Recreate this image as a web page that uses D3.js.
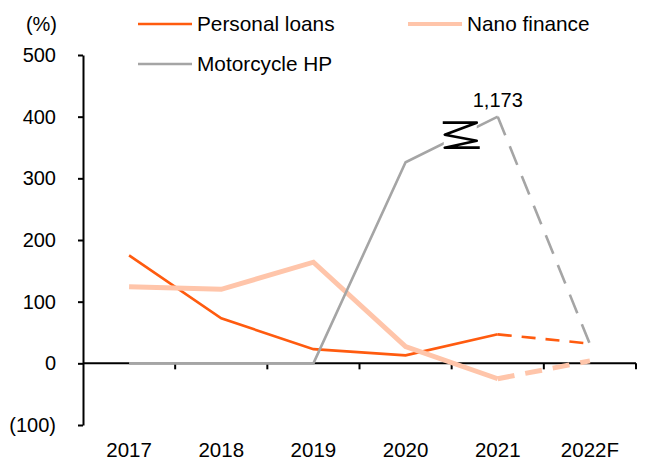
<!DOCTYPE html>
<html>
<head>
<meta charset="utf-8">
<script src="https://cdn.jsdelivr.net/npm/d3@7"></script>
<style>
  body { margin: 0; background: #fff; }
  text { font-family: "Liberation Sans", Arial, sans-serif; fill: #000; }
</style>
</head>
<body>
<div id="chart"></div>
<script>
const years = ["2017", "2018", "2019", "2020", "2021", "2022F"]
const personalLoans = [175, 73, 23, 13, 47, 32]
const nanoFinance = [124, 120, 164, 27, -25, 4]
const motorcycleHP = [0, 0, 0, 326, 1173, 31]
const yTicks = [-100, 0, 100, 200, 300, 400, 500]
const breakCap = 400          // axis is broken above this value
const forecastFrom = 4        // 2021 -> 2022F is dashed

const width = 650, height = 462
const margin = { top: 55, left: 83, bottom: 37, right: 14 }

const svg = d3.select("#chart").append("svg").attr("width", width).attr("height", height)

const x = d3.scaleBand().domain(years).range([margin.left, width - margin.right])
const y = d3.scaleLinear().domain([-100, 500]).range([height - margin.bottom, margin.top])
const cx = d => x(d) + x.bandwidth() / 2

const series = [
  { name: "Personal loans", values: personalLoans, color: "#FF5B0F", width: 2.6, dash: "14,10" },
  { name: "Nano finance", values: nanoFinance, color: "#FFC5AA", width: 5, dash: "17,11" },
  { name: "Motorcycle HP", values: motorcycleHP, color: "#A5A5A5", width: 2.6, dash: "20,12" }
]

// y axis
const yAxis = d3.axisLeft(y).tickValues(yTicks).tickSize(5).tickSizeOuter(0).tickPadding(22)
  .tickFormat(d => d < 0 ? `(${-d})` : d)
const yAxisGroup = svg.append("g").attr("transform", `translate(${margin.left},0)`).call(yAxis)
yAxisGroup.select(".domain").attr("stroke", "#000").attr("stroke-width", 2)
yAxisGroup.selectAll(".tick line").attr("stroke", "#000").attr("stroke-width", 2)
yAxisGroup.selectAll(".tick text").style("font-size", "20px")
  .style("font-family", "'Liberation Sans', Arial, sans-serif").attr("fill", "#000")

// x axis line at zero with ticks on category boundaries
const xAxisGroup = svg.append("g")
xAxisGroup.append("line")
  .attr("x1", margin.left).attr("x2", width - margin.right)
  .attr("y1", y(0)).attr("y2", y(0))
  .attr("stroke", "#000").attr("stroke-width", 2)
xAxisGroup.selectAll(".xtick").data(years).join("line")
  .attr("class", "xtick")
  .attr("x1", d => x(d) + x.bandwidth()).attr("x2", d => x(d) + x.bandwidth())
  .attr("y1", y(0)).attr("y2", y(0) + 6)
  .attr("stroke", "#000").attr("stroke-width", 2)
xAxisGroup.selectAll(".xlabel").data(years).join("text")
  .attr("class", "xlabel")
  .attr("x", d => cx(d)).attr("y", height - 5)
  .attr("text-anchor", "middle").style("font-size", "20.5px")
  .text(d => d)

// unit label
svg.append("text").attr("x", 57).attr("y", 31).attr("text-anchor", "end")
  .style("font-size", "20px").text("(%)")

// lines
const line = d3.line().x(d => cx(d.year)).y(d => y(Math.min(d.value, breakCap)))
const linesGroup = svg.append("g")
series.forEach(s => {
  const pts = years.map((yr, i) => ({ year: yr, value: s.values[i] }))
  linesGroup.append("path")
    .attr("d", line(pts.slice(0, forecastFrom + 1)))
    .attr("fill", "none").attr("stroke", s.color).attr("stroke-width", s.width)
  linesGroup.append("path")
    .attr("d", line(pts.slice(forecastFrom)))
    .attr("fill", "none").attr("stroke", s.color).attr("stroke-width", s.width)
    .attr("stroke-dasharray", s.dash)
})

// axis break symbol on the 2021 motorcycle value
const bx = cx("2021"), by = y(breakCap)
const breakGroup = svg.append("g")
breakGroup.append("rect").attr("x", bx - 54).attr("y", by + 2).attr("width", 33).attr("height", 34).attr("fill", "#fff")
breakGroup.append("path")
  .attr("d", `M${bx - 55},${by + 6} L${bx - 21},${by + 6} L${bx - 53},${by + 18} L${bx - 21},${by + 24} L${bx - 53},${by + 31} L${bx - 18},${by + 31}`)
  .attr("fill", "none").attr("stroke", "#000").attr("stroke-width", 2.6).attr("stroke-linejoin", "round")
svg.append("text").attr("x", bx).attr("y", by - 10).attr("text-anchor", "middle")
  .style("font-size", "20px").text(d3.format(",")(motorcycleHP[forecastFrom]))

// legend
const legendPos = [[138, 24], [408, 24], [138, 64]]
const legend = svg.append("g")
series.forEach((s, i) => {
  const [lx, ly] = legendPos[i]
  legend.append("line").attr("x1", lx).attr("x2", lx + 54).attr("y1", ly).attr("y2", ly)
    .attr("stroke", s.color).attr("stroke-width", s.width === 5 ? 4 : 2.6)
  legend.append("text").attr("x", lx + 59).attr("y", ly + 7).style("font-size", "20.8px").text(s.name)
})
</script>
</body>
</html>
